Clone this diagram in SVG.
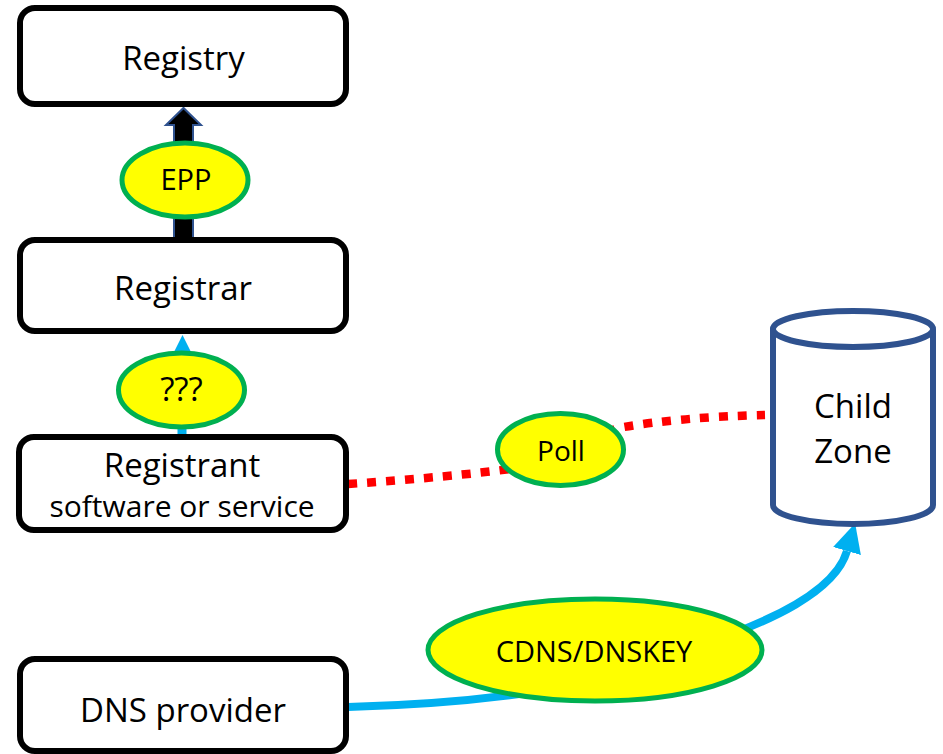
<svg xmlns="http://www.w3.org/2000/svg" width="943" height="754" viewBox="0 0 943 754">
  <style>
    .box { fill: #ffffff; stroke: #000000; stroke-width: 6; }
    .oval { fill: #ffff00; stroke: #00b050; stroke-width: 5; }
    .db { fill: #ffffff; stroke: #2f528f; stroke-width: 6; }
    .t { font-family: "Open Sans", "Liberation Sans", sans-serif; fill: #000000; text-anchor: middle; }
    .big { font-size: 33px; }
    .mid { font-size: 30px; }
    .lbl { font-size: 28px; }
    .poll { fill: none; stroke: #ff0000; stroke-width: 8.5; stroke-dasharray: 9 10; }
    .feed { fill: none; stroke: #00b0f0; stroke-width: 8; }
  </style>
  <defs>
    <marker id="blueHead" markerUnits="userSpaceOnUse" markerWidth="30" markerHeight="30" viewBox="0 -14 28 28" refX="0" refY="0" orient="auto">
      <path d="M0,-13.5 L27,0 L0,13.5 Z" fill="#00b0f0"/>
    </marker>
  </defs>

  <!-- connectors (drawn first so labels sit on top) -->
  <g id="connectors">
    <!-- Registrar -> Registry (EPP) block arrow -->
    <path id="epp-arrow" d="M174,241 L174,125 L166,125 L183.5,108 L201,125 L193,125 L193,241 Z" fill="#000000" stroke="#2f528f" stroke-width="2"/>
    <!-- Registrant -> Registrar -->
    <path id="reg-arrow" d="M177.5,437 L177.5,352 L174,352 L182.5,335 L191,352 L186.5,352 L186.5,437 Z" fill="#00b0f0"/>
    <!-- Registrant polls child zone -->
    <path id="poll-line" class="poll" d="M348,484 Q 450,477 510,469 L 618,428 Q 680,417 765,415"/>
    <!-- DNS provider publishes CDNS/DNSKEY into child zone -->
    <path id="cdns-line" class="feed" d="M348,707 C 430,705 500,698 560,688 L 700,645 C 770,622 835,592 847,551" marker-end="url(#blueHead)"/>
  </g>

  <g id="registry">
    <rect class="box" x="20" y="8" width="326" height="96" rx="15"/>
    <text class="t big" x="183.5" y="70">Registry</text>
  </g>

  <g id="registrar">
    <rect class="box" x="20" y="240" width="326" height="91" rx="15"/>
    <text class="t big" x="183" y="300">Registrar</text>
  </g>

  <g id="registrant">
    <rect class="box" x="19" y="437" width="327" height="93" rx="15"/>
    <text class="t big" x="182" y="477">Registrant</text>
    <text class="t mid" x="182" y="517">software or service</text>
  </g>

  <g id="dns-provider">
    <rect class="box" x="20" y="659" width="326" height="92" rx="15"/>
    <text class="t big" x="183" y="722">DNS provider</text>
  </g>

  <g id="child-zone">
    <path class="db" d="M773,329 V505 A80,19 0 0 0 933,505 V329"/>
    <ellipse class="db" cx="853" cy="329" rx="80" ry="18"/>
    <text class="t big" x="853" y="418">Child</text>
    <text class="t big" x="853" y="463">Zone</text>
  </g>

  <g id="epp">
    <ellipse class="oval" cx="185" cy="180" rx="63" ry="37"/>
    <text class="t lbl" x="186" y="190" style="font-size:29px">EPP</text>
  </g>

  <g id="unknown">
    <ellipse class="oval" cx="181.5" cy="390" rx="63" ry="37"/>
    <text class="t lbl" x="181.5" y="401" style="font-size:33px">???</text>
  </g>

  <g id="poll">
    <ellipse class="oval" cx="560.5" cy="449.5" rx="63" ry="36"/>
    <text class="t lbl" x="561" y="461">Poll</text>
  </g>

  <g id="cdns">
    <ellipse class="oval" cx="595" cy="650" rx="167" ry="51"/>
    <text class="t lbl" x="594" y="662" style="font-size:29px">CDNS/DNSKEY</text>
  </g>
</svg>
